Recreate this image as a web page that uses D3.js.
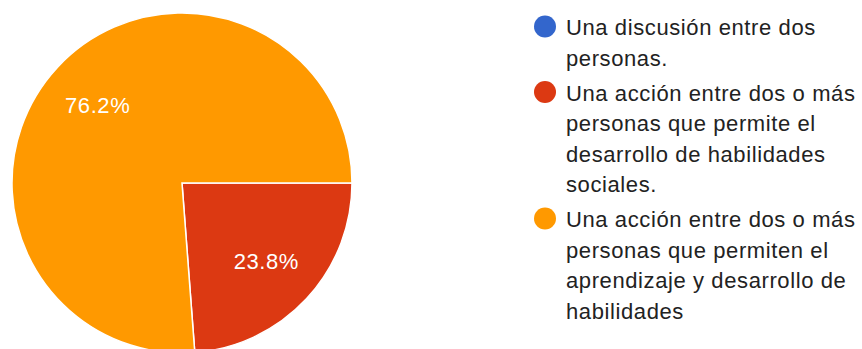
<!DOCTYPE html>
<html>
<head>
<meta charset="utf-8">
<script src="https://cdn.jsdelivr.net/npm/d3@7"></script>
<style>
  html, body { margin: 0; padding: 0; background: #fff; }
  svg { display: block; }
</style>
</head>
<body>
<svg id="chart" width="862" height="349"></svg>
<script>
// Answer options (legend text, already broken into display lines)
const categories = [
  ["Una discusión entre dos", "personas."],
  ["Una acción entre dos o más", "personas que permite el", "desarrollo de habilidades", "sociales."],
  ["Una acción entre dos o más", "personas que permiten el", "aprendizaje y desarrollo de", "habilidades"]
];
// Share of responses per option, in percent
const values = [0, 23.8, 76.2];
const sliceLabels = ["0%", "23.8%", "76.2%"];
const colors = ["#3366cc", "#dc3912", "#ff9900"];

const svg = d3.select("#chart");
const cx = 182, cy = 183, radius = 170;

const color = d3.scaleOrdinal().domain(d3.range(values.length)).range(colors);

const pie = d3.pie()
  .sort(null)
  .value(d => d)
  .startAngle(Math.PI / 2)
  .endAngle(Math.PI / 2 + 2 * Math.PI);

const arcs = pie(values);
const arc = d3.arc().innerRadius(0).outerRadius(radius);
const labelArc = d3.arc().innerRadius(115).outerRadius(115);

const g = svg.append("g").attr("transform", `translate(${cx},${cy})`);

g.selectAll("path.slice")
  .data(arcs.filter(a => a.data > 0))
  .join("path")
  .attr("class", "slice")
  .attr("d", arc)
  .attr("fill", d => color(d.index))
  .attr("stroke", "#fff")
  .attr("stroke-width", 1.5);

g.selectAll("text.pct")
  .data(arcs.filter(a => a.data > 0))
  .join("text")
  .attr("class", "pct")
  .attr("transform", d => `translate(${labelArc.centroid(d)})`)
  .attr("text-anchor", "middle")
  .attr("dy", "0.35em")
  .attr("fill", "#fff")
  .style("font-family", "'Liberation Sans', Arial, sans-serif")
  .style("font-size", "22px")
  .style("letter-spacing", "0.6px")
  .text(d => sliceLabels[d.index]);

// Legend
const legendX = 545, textX = 566;
const lineH = 30.5, itemGap = 35;
let y = 35;
const legend = svg.append("g");
categories.forEach((lines, i) => {
  const item = legend.append("g");
  item.append("circle")
    .attr("cx", legendX)
    .attr("cy", y - 8.5)
    .attr("r", 11)
    .attr("fill", color(i));
  const t = item.append("text")
    .attr("x", textX)
    .attr("y", y)
    .attr("fill", "#222")
    .style("font-family", "'Liberation Sans', Arial, sans-serif")
    .style("font-size", "22px")
    .style("letter-spacing", "0.6px");
  lines.forEach((ln, j) => {
    t.append("tspan")
      .attr("x", textX)
      .attr("y", y + j * lineH)
      .text(ln);
  });
  y += (lines.length - 1) * lineH + itemGap;
});
</script>
</body>
</html>
